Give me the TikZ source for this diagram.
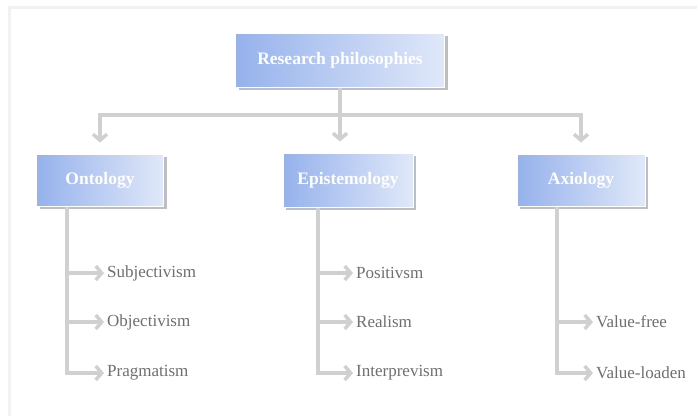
\documentclass[tikz,border=0pt]{standalone}
\usepackage{fontspec}
\setmainfont{Liberation Serif}
\usetikzlibrary{arrows.meta,shadows}
\definecolor{boxdark}{RGB}{150,178,236}
\definecolor{boxlight}{RGB}{224,232,249}
\definecolor{linkgray}{RGB}{208,208,208}
\definecolor{itemgray}{RGB}{110,110,110}
\begin{document}
\begin{tikzpicture}[x=1pt,y=-1pt,
  philbox/.style={rectangle,draw=white,line width=1pt,left color=boxdark,right color=boxlight,
    text=white,font=\fontsize{17.5}{20}\selectfont\bfseries,
    drop shadow={shadow xshift=3pt,shadow yshift=-3pt,fill=gray!85,opacity=.6}},
  subitem/.style={anchor=west,inner sep=1pt,text=itemgray,font=\fontsize{17}{20}\selectfont},
  link/.style={draw=linkgray,line width=3.5pt},
  tip/.style={-{Straight Barb[length=6pt,width=14pt]},shorten >=11pt}]
  \useasboundingbox (0,0) rectangle (698,416);
  \draw[gray!10,line width=3pt] (9,416) -- (9,7.5) -- (697,7.5);

  \begin{scope}[every node/.style={philbox}]
    \node[minimum width=209pt,minimum height=54pt] (root) at (340,60) {Research philosophies};
    \node[minimum width=127pt,minimum height=52pt] (ont) at (100,180) {Ontology};
    \node[minimum width=130pt,minimum height=54pt] (epi) at (348,180) {Epistemology};
    \node[minimum width=128pt,minimum height=52pt] (axi) at (581,180) {Axiology};
  \end{scope}

  \begin{scope}[every node/.style={subitem}]
    \node (subj) at (106,273) {Subjectivism};
    \node (obj) at (106,322) {Objectivism};
    \node (prag) at (106,373) {Pragmatism};
    \node (pos) at (355,273) {Positivsm};
    \node (real) at (355,322) {Realism};
    \node (interp) at (355,373) {Interprevism};
    \node (vfree) at (595,322) {Value-free};
    \node (vload) at (595,373) {Value-loaden};
  \end{scope}

  \coordinate (hub) at (340,115);
  \coordinate (ontspine) at ([xshift=-33pt]ont.south);
  \coordinate (epispine) at ([xshift=-30pt]epi.south);
  \coordinate (axispine) at ([xshift=-24pt]axi.south);

  \draw[link] (root) -- (hub);
  \draw[link,tip] (hub) -| (ont);
  \draw[link,tip] (hub) -| (axi);
  \draw[link,tip] (hub) -- (epi.north -| hub);

  \draw[link,tip,shorten >=2pt] (ontspine) |- (prag.west);
  \draw[link,tip,shorten >=2pt] (ontspine |- subj) -- (subj.west);
  \draw[link,tip,shorten >=2pt] (ontspine |- obj) -- (obj.west);
  \draw[link,tip,shorten >=2pt] (epispine) |- (interp.west);
  \draw[link,tip,shorten >=2pt] (epispine |- pos) -- (pos.west);
  \draw[link,tip,shorten >=2pt] (epispine |- real) -- (real.west);
  \draw[link,tip,shorten >=2pt] (axispine) |- (vload.west);
  \draw[link,tip,shorten >=2pt] (axispine |- vfree) -- (vfree.west);
\end{tikzpicture}
\end{document}
